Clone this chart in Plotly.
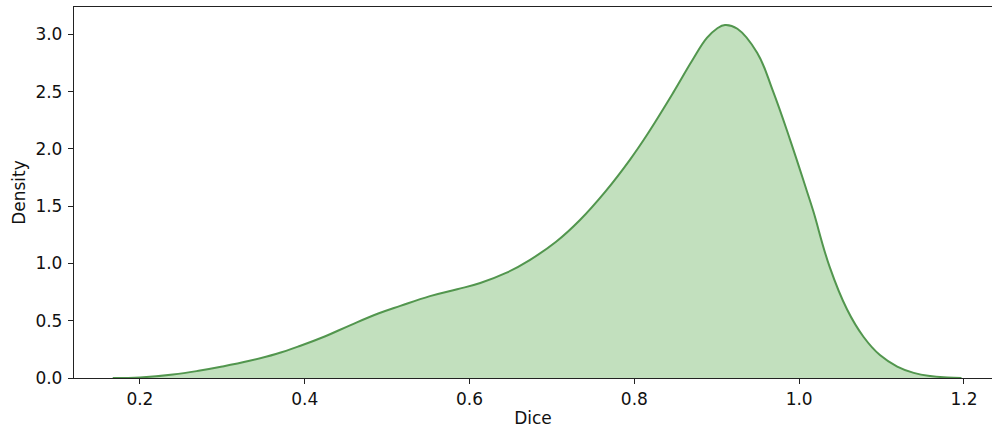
import plotly.graph_objects as go

dice = [0.167, 0.2, 0.24, 0.273, 0.30, 0.333, 0.365, 0.394, 0.425, 0.455, 0.49, 0.516,
        0.552, 0.585, 0.613, 0.645, 0.673, 0.705, 0.734, 0.765, 0.795, 0.815, 0.847,
        0.870, 0.888, 0.900, 0.910, 0.925, 0.949, 0.968, 0.989, 1.009, 1.017, 1.037,
        1.058, 1.078, 1.098, 1.119, 1.139, 1.159, 1.18, 1.197]
density = [0.0, 0.005, 0.03, 0.065, 0.10, 0.15, 0.21, 0.28, 0.365, 0.46, 0.565, 0.63,
           0.715, 0.775, 0.83, 0.92, 1.03, 1.19, 1.38, 1.63, 1.91, 2.12, 2.49,
           2.77, 2.97, 3.05, 3.083, 3.05, 2.84, 2.51, 2.08, 1.64, 1.46, 0.97,
           0.60, 0.36, 0.20, 0.10, 0.045, 0.017, 0.005, 0.0]

x_ticks = [0.2, 0.4, 0.6, 0.8, 1.0, 1.2]
y_ticks = [0.0, 0.5, 1.0, 1.5, 2.0, 2.5, 3.0]

fig = go.Figure()
fig.add_trace(go.Scatter(
    x=dice, y=density, mode="lines",
    line=dict(color="rgb(82,150,78)", width=2, shape="spline", smoothing=1.2),
    fill="tozeroy", fillcolor="rgba(110,180,100,0.42)",
    showlegend=False, hoverinfo="skip",
))

axis_font = dict(family="DejaVu Sans", size=17, color="#111")
fig.update_layout(
    width=992, height=432,
    margin=dict(l=74, r=0, t=7, b=54),
    paper_bgcolor="white", plot_bgcolor="white",
    font=axis_font,
    xaxis=dict(
        range=[0.12, 1.234], tickvals=x_ticks, ticktext=[f"{v:.1f}" for v in x_ticks],
        showline=True, linecolor="#222", linewidth=1.3, mirror=True,
        ticks="outside", ticklen=5, tickwidth=1.2, tickcolor="#222",
        showgrid=False, zeroline=False, automargin=False,
        title=dict(text="Dice", font=axis_font, standoff=4),
        tickfont=axis_font,
    ),
    yaxis=dict(
        range=[0, 3.24], tickvals=y_ticks, ticktext=[f"{v:.1f}" for v in y_ticks],
        showline=True, linecolor="#222", linewidth=1.3,
        ticks="outside", ticklen=5, tickwidth=1.2, tickcolor="#222",
        showgrid=False, zeroline=False, automargin=False,
        ticklabelstandoff=2,
        title=dict(text="Density", font=axis_font, standoff=5),
        tickfont=axis_font,
    ),
)

fig.write_html(
    "out.html",
    config={"displayModeBar": False},
    post_script="document.body.style.margin='0';document.body.style.overflow='hidden';",
)
